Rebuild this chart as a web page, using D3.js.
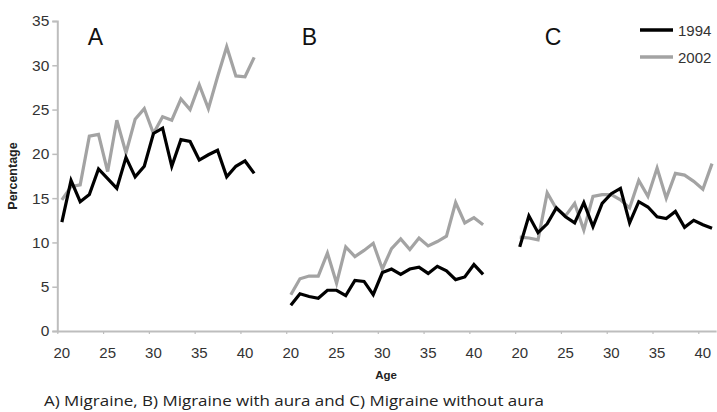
<!DOCTYPE html>
<html>
<head>
<meta charset="utf-8">
<script src="https://cdn.jsdelivr.net/npm/d3@7"></script>
<style>
  html, body { margin: 0; padding: 0; background: #fff; overflow: hidden; }
  svg { display: block; }
</style>
</head>
<body>
<svg id="chart" width="717" height="412"></svg>
<script>
// ---- data ----
const ages = [20,21,22,23,24,25,26,27,28,29,30,31,32,33,34,35,36,37,38,39,40,41];
const panels = ["A", "B", "C"];
const seriesNames = ["1994", "2002"];
const a1994 = [12.3,17.0,14.6,15.4,18.3,17.2,16.1,19.6,17.4,18.6,22.3,22.9,18.6,21.6,21.4,19.3,19.9,20.4,17.4,18.6,19.2,17.8];
const a2002 = [14.8,16.3,16.5,22.0,22.2,18.0,23.8,20.1,23.9,25.1,22.3,24.2,23.8,26.2,25.0,27.8,25.1,28.7,32.1,28.8,28.7,30.9];
const b1994 = [2.9,4.2,3.9,3.7,4.6,4.6,4.0,5.7,5.6,4.1,6.6,7.0,6.4,7.0,7.2,6.5,7.3,6.8,5.8,6.1,7.5,6.4];
const b2002 = [4.1,5.9,6.2,6.2,8.8,5.4,9.5,8.4,9.1,9.9,7.0,9.3,10.4,9.2,10.5,9.6,10.1,10.7,14.5,12.2,12.8,12.0];
const c1994 = [9.5,13.0,11.1,12.1,13.9,12.9,12.2,14.5,11.8,14.4,15.5,16.1,12.2,14.6,14.0,12.9,12.7,13.5,11.7,12.5,12.0,11.6];
const c2002 = [10.6,10.5,10.3,15.6,13.8,13.0,14.4,11.4,15.2,15.4,15.4,14.8,13.9,17.0,15.2,18.4,15.0,17.8,17.6,16.9,16.0,18.9];
const yTicks = [0,5,10,15,20,25,30,35];
const xTickLabels = [20,25,30,35,40];
const yLabel = "Percentage";
const xLabel = "Age";
const caption = "A) Migraine, B) Migraine with aura and C) Migraine without aura";

// ---- layout ----
const svg = d3.select("#chart");
const slotsPerPanel = 25;           // 22 ages + 3 empty slots
const totalSlots = slotsPerPanel * 2 + ages.length;
const plotLeft = 57.3, plotBottom = 331, plotTop = 21;
const slotW = 9.157;
const x = d3.scaleLinear().domain([0, totalSlots]).range([plotLeft, plotLeft + totalSlots * slotW]);
const y = d3.scaleLinear().domain([0, 35]).range([plotBottom, plotTop]);

const axisColor = "#bdbdbd";
const textColor = "#333";
const font = "'Liberation Sans', Arial, sans-serif";

// y axis
const yAxis = svg.append("g").attr("transform", `translate(${plotLeft},0)`)
  .call(d3.axisLeft(y).tickValues(yTicks).tickSize(5).tickPadding(3).tickFormat(d3.format("d")));
yAxis.select(".domain").attr("stroke", axisColor).attr("stroke-width", 2);
yAxis.selectAll(".tick line").attr("stroke", axisColor).attr("stroke-width", 1.5);
yAxis.selectAll(".tick text").attr("fill", textColor).style("font-family", font).style("font-size", "15.5px");

// x axis: ticks at category boundaries every 5 ages, labels centered on categories
const tickIdx = [];
const labelData = [];
panels.forEach((p, pi) => {
  xTickLabels.forEach(v => {
    const idx = pi * slotsPerPanel + (v - ages[0]);
    tickIdx.push(idx);
    labelData.push({ idx: idx + 0.5, label: v });
  });
});
const xAxis = svg.append("g").attr("transform", `translate(0,${plotBottom})`)
  .call(d3.axisBottom(x).tickValues(tickIdx).tickSize(3).tickFormat(""));
xAxis.select(".domain").attr("stroke", axisColor).attr("stroke-width", 2).attr("d", `M${plotLeft},0.5H${x(totalSlots)}`);
xAxis.selectAll(".tick line").attr("stroke", axisColor).attr("stroke-width", 1.2);
svg.append("g").selectAll("text").data(labelData).join("text")
  .attr("x", d => x(d.idx)).attr("y", 358)
  .attr("text-anchor", "middle")
  .attr("fill", textColor).style("font-family", font).style("font-size", "15px")
  .text(d => d.label);

// lines
const panelData = [
  { name: "A", s: [a1994, a2002] },
  { name: "B", s: [b1994, b2002] },
  { name: "C", s: [c1994, c2002] }
];
const colors = ["#000000", "#a3a3a3"];
const line = d3.line().x(d => x(d.i)).y(d => y(d.v));
[1, 0].forEach(si => {
  panelData.forEach((p, pi) => {
    const pts = p.s[si].map((v, k) => ({ i: pi * slotsPerPanel + k + 0.5, v }));
    svg.append("path").datum(pts)
      .attr("d", line)
      .attr("fill", "none")
      .attr("stroke", colors[si])
      .attr("stroke-width", 3.2)
      .attr("stroke-linejoin", "miter");
  });
});

// panel letters
const letterX = [95.5, 309.5, 553];
panels.forEach((p, pi) => {
  svg.append("text").attr("x", letterX[pi]).attr("y", 45)
    .attr("text-anchor", "middle")
    .attr("fill", "#111").style("font-family", font).style("font-size", "23px")
    .text(p);
});

// legend
seriesNames.forEach((n, i) => {
  const ly = 30 + i * 27;
  svg.append("line").attr("x1", 640).attr("x2", 673).attr("y1", ly).attr("y2", ly)
    .attr("stroke", colors[i]).attr("stroke-width", 3.5);
  svg.append("text").attr("x", 678).attr("y", ly + 5.5)
    .attr("fill", textColor).style("font-family", font).style("font-size", "15px")
    .text(n);
});

// axis titles
svg.append("text")
  .attr("transform", `translate(17,176) rotate(-90)`)
  .attr("text-anchor", "middle")
  .attr("fill", "#222").style("font-family", font).style("font-size", "12.5px").style("font-weight", "bold")
  .text(yLabel);
svg.append("text").attr("x", 386).attr("y", 379)
  .attr("text-anchor", "middle")
  .attr("fill", "#222").style("font-family", font).style("font-size", "11.5px").style("font-weight", "bold")
  .text(xLabel);

// caption
svg.append("text").attr("x", 44).attr("y", 406)
  .attr("fill", "#222").style("font-family", "'Open Sans', sans-serif").style("font-size", "15px")
  .attr("textLength", 500).attr("lengthAdjust", "spacingAndGlyphs")
  .text(caption);
</script>
</body>
</html>
